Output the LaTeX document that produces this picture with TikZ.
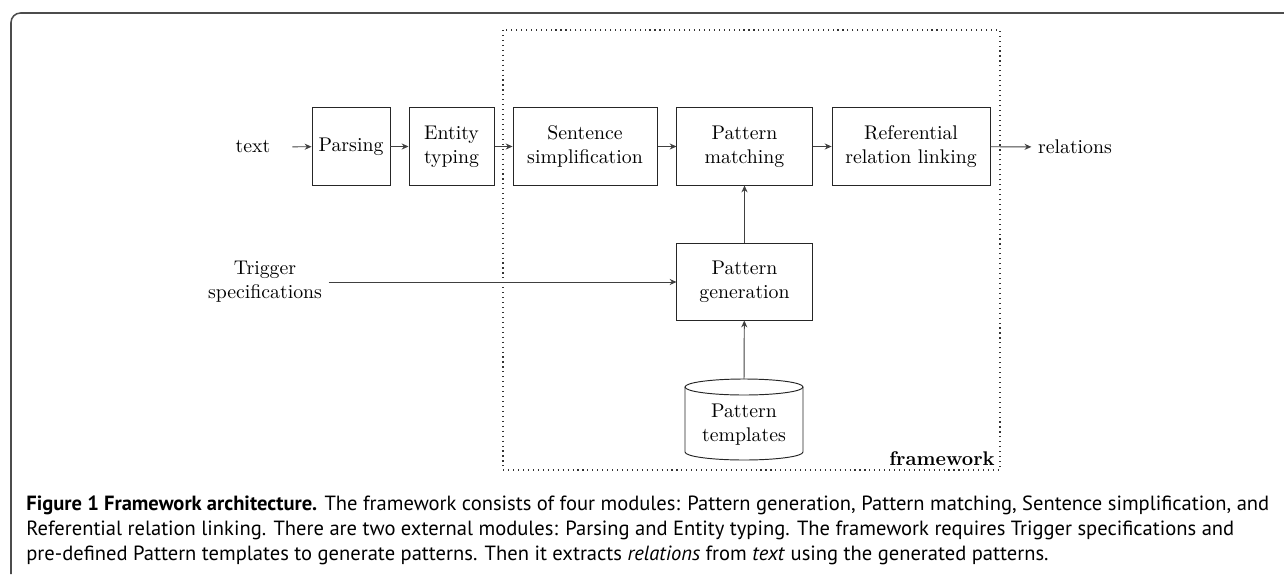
\documentclass[tikz,border=0pt]{standalone}
\usepackage{fontspec}
\newfontfamily\capfont{PT Sans}
\usetikzlibrary{arrows.meta}
\begin{document}
\begin{tikzpicture}[x=0.5256pt,y=-0.5256pt,
  every node/.style={font=\fontsize{10.4pt}{12.6pt}\selectfont},
  box/.style={draw=black!85, line width=0.5pt, align=center, inner sep=0pt, minimum height=40.5pt},
  arr/.style={draw=black!75, line width=0.5pt, -{Stealth[length=3.6pt,width=3.2pt]}},
  plain/.style={align=center, inner sep=3.33pt},
  framecol/.style={draw=black!70, line width=0.8pt},
  capline/.style={anchor=base west, inner sep=0pt, font=\capfont\fontsize{10.8pt}{13.1pt}\selectfont}
]
\useasboundingbox (0,0) rectangle (1284,574);
% outer frame
\draw[framecol, rounded corners=5pt] (1284,13) -- (11,13) -- (11,574);
% framework dotted box
\draw[black!80, dotted, line width=0.6pt] (503,30) rectangle (1000,470);
\node[anchor=base east, inner sep=0pt, font=\fontsize{10.4pt}{12.6pt}\selectfont\bfseries] (fwlabel) at (995,465) {framework};
% top row
\node[plain] (txt) at (253,147) {text};
\node[box, minimum width=41pt] (parse) at (351,146.5) {Parsing};
\node[box, minimum width=44.7pt] (ent) at (451.5,146.5) {Entity\\typing};
\node[box, minimum width=75.7pt] (sent) at (585,146.5) {Sentence\\simplification};
\node[box, minimum width=71pt] (pmatch) at (744.5,146.5) {Pattern\\matching};
\node[box, minimum width=83pt] (ref) at (911,146.5) {Referential\\relation linking};
\node[plain] (rel) at (1075,147) {relations};
% middle
\node[plain] (trig) at (265,282) {Trigger\\specifications};
\node[box, minimum width=71pt, minimum height=40pt] (pgen) at (744.5,282) {Pattern\\generation};
% cylinder (pattern templates)
\draw[black!85, line width=0.5pt] (685,387) -- (685,452) arc[start angle=180, end angle=0, x radius=59, y radius=8] -- (803,387);
\draw[black!85, line width=0.5pt] (744,387) ellipse[x radius=59, y radius=8];
\coordinate (cyltop) at (744,379);
\node[plain] (templ) at (744,425) {Pattern\\templates};
% connectors
\draw[arr, shorten <=8pt] (txt) -- (parse);
\draw[arr] (parse) -- (ent);
\draw[arr] (ent) -- (sent);
\draw[arr] (sent) -- (pmatch);
\draw[arr] (pmatch) -- (ref);
\draw[arr] (ref) -- (rel);
\draw[arr] (trig) -- (pgen);
\draw[arr] (pgen) -- (pmatch);
\draw[arr] (cyltop) -- (pgen);
% caption
\node[capline] (cap1) at (26,510) {{\bfseries Figure 1 Framework architecture.} The framework consists of four modules: Pattern generation, Pattern matching, Sentence simplification, and};
\node[capline] (cap2) at (26,535) {Referential relation linking. There are two external modules: Parsing and Entity typing. The framework requires Trigger specifications and};
\node[capline] (cap3) at (26,560) {pre-defined Pattern templates to generate patterns. Then it extracts \textit{relations} from \textit{text} using the generated patterns.};
\end{tikzpicture}
\end{document}
